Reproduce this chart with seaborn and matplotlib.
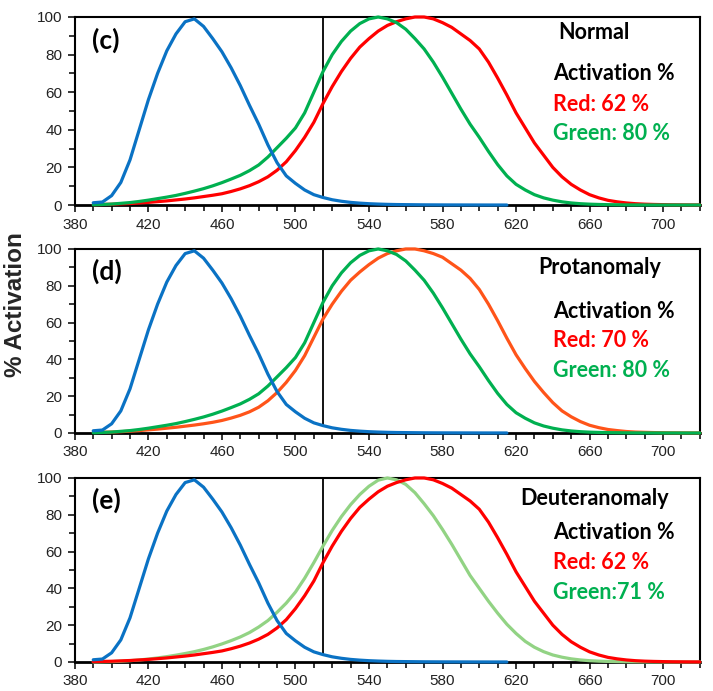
import matplotlib
matplotlib.use("Agg")
import matplotlib.pyplot as plt
import seaborn as sns
import pandas as pd
from matplotlib.ticker import MultipleLocator

# ---------------- data ----------------
wavelength = [390, 395, 400, 405, 410, 415, 420, 425, 430, 435,
              440, 445, 450, 455, 460, 465, 470, 475, 480, 485,
              490, 495, 500, 505, 510, 515, 520, 525, 530, 535,
              540, 545, 550, 555, 560, 565, 570, 575, 580, 585,
              590, 595, 600, 605, 610, 615, 620, 625, 630, 635,
              640, 645, 650, 655, 660, 665, 670, 675, 680, 685,
              690, 695, 700, 705, 710, 715, 720]

blue_wavelength = [390, 395, 400, 405, 410, 415, 420, 425, 430, 435,
                   440, 445, 450, 455, 460, 465, 470, 475, 480, 485,
                   490, 495, 500, 505, 510, 515, 520, 525, 530, 535,
                   540, 545, 550, 555, 560, 565, 570, 575, 580, 585,
                   590, 595, 600, 605, 610, 615]

blue_s = [1.2, 1.6, 5, 12, 24, 40, 56, 70, 82, 91,
          97.5, 99, 95, 88.5, 81.5, 73, 63.5, 53, 43, 32,
          22.5, 15.5, 11.5, 8, 5.5, 4, 2.8, 2, 1.4, 1,
          0.7, 0.5, 0.35, 0.25, 0.2, 0.15, 0.1, 0.08, 0.06, 0.05,
          0.04, 0.03, 0.02, 0.01, 0.01, 0]

green_m = [0.1, 0.3, 0.5, 0.9, 1.3, 1.9, 2.6, 3.4, 4.2, 5.1,
           6.2, 7.4, 8.7, 10.2, 11.9, 13.8, 15.8, 18.3, 21.3, 25.5,
           30.5, 35.5, 41, 49, 60, 71, 80, 87, 92.5, 96.5,
           99, 100, 99, 97, 93.5, 88.5, 83, 76, 68, 59.5,
           51, 43, 36, 28.5, 21.5, 15.5, 11, 8, 5.5, 3.8,
           2.6, 1.7, 1.1, 0.7, 0.45, 0.3, 0.2, 0.13, 0.08, 0.05,
           0.03, 0.02, 0.01, 0.01, 0, 0, 0]

red_l = [0.2, 0.3, 0.4, 0.6, 0.8, 1.1, 1.4, 1.8, 2.2, 2.7,
         3.2, 3.8, 4.5, 5.2, 6, 7.2, 8.6, 10.3, 12.4, 15,
         18.5, 23, 29, 36, 44, 54, 63, 71, 78, 84,
         88.5, 92.5, 95.5, 97.5, 99, 100, 100, 99, 97, 94.5,
         91, 87.5, 83, 76, 67.5, 58.5, 49, 41, 33, 26.5,
         20, 15, 11, 8, 5.5, 3.8, 2.5, 1.7, 1.1, 0.7,
         0.45, 0.3, 0.2, 0.12, 0.08, 0.05, 0.03]

red_protan = [0.3, 0.4, 0.5, 0.7, 1, 1.3, 1.7, 2.1, 2.6, 3.1,
              3.7, 4.3, 5, 5.8, 6.8, 8.1, 9.6, 11.5, 14, 17.5,
              22, 27.5, 34, 42, 52, 62, 70, 77, 83, 87.5,
              91.5, 95, 97.5, 99, 100, 100, 99, 97.5, 95.5, 92,
              88.5, 84, 78, 70, 61, 51.5, 42.5, 35, 28, 22,
              16.5, 12, 8.8, 6.2, 4.2, 2.9, 1.9, 1.3, 0.8, 0.5,
              0.35, 0.22, 0.14, 0.09, 0.06, 0.04, 0.02]

green_deutan = [0, 0.1, 0.2, 0.4, 0.7, 1.1, 1.6, 2.2, 2.9, 3.7,
                4.6, 5.6, 6.8, 8.2, 9.8, 11.6, 13.6, 16, 19, 22.5,
                27, 32, 38, 45.5, 54, 63, 71.5, 79, 85.5, 91,
                95.5, 98.8, 100, 99, 96.5, 92, 86, 79.5, 72, 64,
                55.5, 47, 40, 33, 26.5, 20.5, 15.5, 11.2, 8, 5.6,
                3.8, 2.6, 1.7, 1.1, 0.7, 0.45, 0.3, 0.2, 0.13, 0.08,
                0.05, 0.03, 0.02, 0.01, 0.01, 0, 0]

panel_letters = ["(c)", "(d)", "(e)"]
panel_titles = ["Normal", "Protanomaly", "Deuteranomaly"]
red_texts = ["Red: 62 %", "Red: 70 %", "Red: 62 %"]
green_texts = ["Green: 80 %", "Green: 80 %", "Green:71 %"]
x_ticks = [380, 420, 460, 500, 540, 580, 620, 660, 700]
y_ticks = [0, 20, 40, 60, 80, 100]
marker_wl = 515

# ---------------- style ----------------
sns.set_style("ticks")
plt.rcParams["font.family"] = ["Liberation Sans", "DejaVu Sans"]

BLUE = "#0A72C4"
GREEN = "#00B050"
RED = "#FF0000"
ORANGE = "#FF5419"
LGREEN = "#92D384"
TXT_RED = "#FF0000"
TXT_GREEN = "#00B050"

fig = plt.figure(figsize=(7.13, 6.91), dpi=100)
positions = [
    [0.105, 0.7033, 0.8766, 0.2721],
    [0.105, 0.3734, 0.8766, 0.2663],
    [0.105, 0.0420, 0.8766, 0.2663],
]

curve_sets = [
    [(red_l, RED), (green_m, GREEN)],
    [(red_protan, ORANGE), (green_m, GREEN)],
    [(green_deutan, LGREEN), (red_l, RED)],
]
title_x = [0.773, 0.741, 0.712]
title_y = [0.92, 0.897, 0.891]
act_y = [0.697, 0.658, 0.701]
red_y = [0.537, 0.50, 0.538]
green_y = [0.383, 0.342, 0.38]

blue_df = pd.DataFrame({"wl": blue_wavelength, "act": blue_s})
blue_at_marker = blue_df.loc[blue_df["wl"] == marker_wl, "act"].iloc[0]

line_kw = dict(linewidth=2.3, estimator=None, clip_on=False,
               solid_joinstyle="round", solid_capstyle="round")

for i, pos in enumerate(positions):
    ax = fig.add_axes(pos)
    for vals, col in curve_sets[i]:
        df = pd.DataFrame({"wl": wavelength, "act": vals})
        sns.lineplot(data=df, x="wl", y="act", color=col, ax=ax, zorder=3, **line_kw)
    sns.lineplot(data=blue_df, x="wl", y="act", color=BLUE, ax=ax, zorder=3.5, **line_kw)
    ax.vlines(marker_wl, blue_at_marker, 100, color="black", linewidth=1.3, zorder=2)

    ax.set_xlim(380, 720)
    ax.set_ylim(0, 100)
    ax.set_xticks(x_ticks)
    ax.set_yticks(y_ticks)
    ax.xaxis.set_minor_locator(MultipleLocator(10))
    ax.yaxis.set_minor_locator(MultipleLocator(10))
    ax.tick_params(axis="both", which="major", direction="out", length=5, width=1.3,
                   labelsize=11, labelcolor="#222222", pad=4)
    ax.tick_params(axis="both", which="minor", direction="out", length=4, width=1.3)
    ax.set_xlabel("")
    ax.set_ylabel("")
    for sp in ax.spines.values():
        sp.set_visible(True)
        sp.set_linewidth(1.5)
        sp.set_color("black")
    ax.spines["bottom"].set_linewidth(2.0)

    tfont = dict(family=["Lato", "DejaVu Sans"], fontweight="bold")
    ax.text(0.027, 0.878, panel_letters[i], transform=ax.transAxes, fontsize=19,
            va="center", ha="left", color="black", **tfont)
    ax.text(title_x[i], title_y[i], panel_titles[i], transform=ax.transAxes,
            fontsize=15.5, va="center", ha="left", color="black", **tfont)
    ax.text(0.765, act_y[i], "Activation %", transform=ax.transAxes,
            fontsize=15.5, va="center", ha="left", color="black", **tfont)
    ax.text(0.765, red_y[i], red_texts[i], transform=ax.transAxes,
            fontsize=15.5, va="center", ha="left", color=TXT_RED, **tfont)
    ax.text(0.765, green_y[i], green_texts[i], transform=ax.transAxes,
            fontsize=15.5, va="center", ha="left", color=TXT_GREEN, **tfont)

fig.text(0.022, 0.559, "% Activation", rotation=90, fontsize=17.5, fontweight="bold",
         va="center", ha="center", family=["Liberation Sans", "DejaVu Sans"])

fig.savefig("out.png", dpi=100, facecolor="white")
